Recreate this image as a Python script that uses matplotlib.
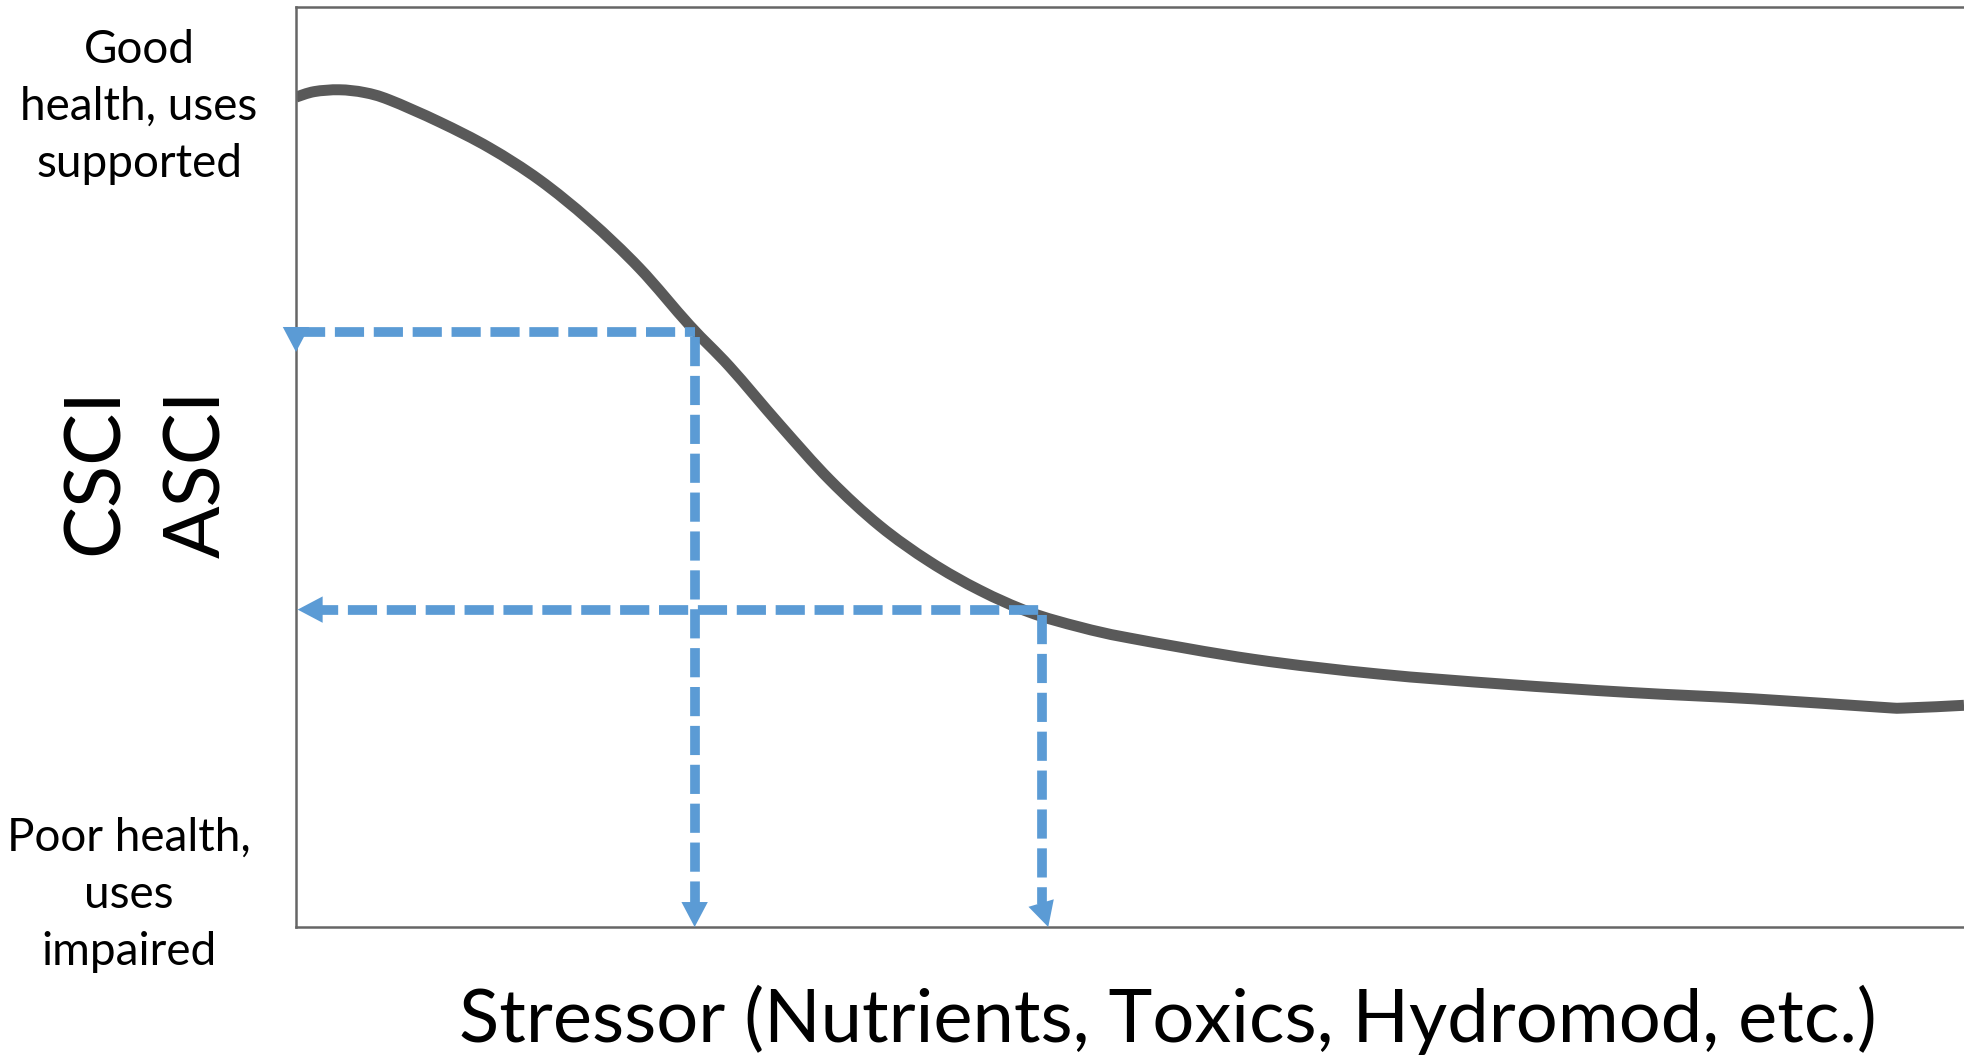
import matplotlib.pyplot as plt
from matplotlib.path import Path
from matplotlib.patches import PathPatch

# curve (stressor 0-100, index 0-100)
stressor = [0, 1.1, 2.6, 4.1, 5.6, 8.6, 11.6, 14.6, 17.6, 20.6, 23.6, 26.0, 29.0,
            32.0, 35.0, 38.0, 41.0, 44.0, 47.0, 50.0, 57.4, 64.9, 72.4,
            79.9, 87.4, 94.9, 96.4, 100]
index = [90.2, 90.8, 91.0, 90.7, 89.9, 87.5, 84.7, 81.2, 76.8, 71.6, 65.4, 60.9, 54.6,
         48.6, 43.6, 39.7, 36.6, 34.2, 32.6, 31.4, 29.1, 27.5, 26.4,
         25.5, 24.8, 23.9, 23.8, 24.1]

# the two worked examples: (stressor, index)
examples_x = [23.9, 44.7]
examples_y = [64.7, 34.5]

top_label = "Good\nhealth, uses\nsupported"
bottom_label = "Poor health,\nuses\nimpaired"
xlabel = "Stressor (Nutrients, Toxics, Hydromod, etc.)"

curve_color = '#595959'
guide_color = '#5B9BD5'

fig = plt.figure(figsize=(19.64, 10.55), dpi=100)
ax = fig.add_axes([0.1507, 0.1213, 0.8493, 0.8721])
ax.set_xlim(0, 100)
ax.set_ylim(0, 100)
ax.set_xticks([])
ax.set_yticks([])
for side in ['left', 'bottom', 'top']:
    ax.spines[side].set_color('#666666')
    ax.spines[side].set_linewidth(1.8)
ax.spines['right'].set_visible(False)

# smooth line through the read points (Catmull-Rom as cubic Bezier segments)
pts = list(zip(stressor, index))
verts = [pts[0]]
codes = [Path.MOVETO]
for i in range(len(pts) - 1):
    p0 = pts[i - 1] if i > 0 else pts[i]
    p1, p2 = pts[i], pts[i + 1]
    p3 = pts[i + 2] if i + 2 < len(pts) else pts[i + 1]
    c1 = (p1[0] + (p2[0] - p0[0]) / 6, p1[1] + (p2[1] - p0[1]) / 6)
    c2 = (p2[0] - (p3[0] - p1[0]) / 6, p2[1] - (p3[1] - p1[1]) / 6)
    verts += [c1, c2, p2]
    codes += [Path.CURVE4] * 3
ax.add_patch(PathPatch(Path(verts, codes), fill=False, edgecolor=curve_color,
                       lw=7.9, capstyle='butt', zorder=2))

dash = (0, (3.0, 1.0))
head = '-|>,head_length=1.8,head_width=0.95'
glw = 7.0

def arrow_head(tip, tail):
    ax.annotate('', xy=tip, xytext=tail, annotation_clip=False,
                arrowprops=dict(arrowstyle=head, color=guide_color, lw=0,
                                shrinkA=0, shrinkB=0, mutation_scale=10), zorder=4)

# first example: horizontal guide ends with a downward head on the axis
x1, y1 = examples_x[0], examples_y[0]
ax.plot([0, x1], [y1, y1], color=guide_color, lw=glw, linestyle=dash, zorder=3)
ax.plot([x1, x1], [y1 - 0.6, 2.5], color=guide_color, lw=glw, linestyle=dash, zorder=3)
arrow_head((0, y1 - 2.2), (0, y1 + 1.5))
arrow_head((x1, 0), (x1, 5))

# second example
x2, y2 = examples_x[1], examples_y[1]
ax.plot([0.8, x2], [y2, y2], color=guide_color, lw=glw, linestyle=dash, zorder=3)
ax.plot([x2, x2], [y2 - 0.6, 2.5], color=guide_color, lw=glw, linestyle=dash, zorder=3)
arrow_head((0.1, y2), (4, y2))
arrow_head((x2 + 0.4, 0), (x2 - 0.6, 6.1))

fig.text(0.0708, 0.8985, top_label, ha='center', va='center', fontsize=33,
         family='Lato', linespacing=1.45)
fig.text(0.0657, 0.1516, bottom_label, ha='center', va='center', fontsize=33,
         family='Lato', linespacing=1.45)

fig.text(118 / 1964, 1 - 471 / 1055, 'CSCI', rotation=90, rotation_mode='anchor',
         ha='center', va='baseline', fontsize=56, family='Lato')
fig.text(220 / 1964, 1 - 474 / 1055, 'ASCI', rotation=90, rotation_mode='anchor',
         ha='center', va='baseline', fontsize=56, family='Lato')

fig.text(1168 / 1964, 13 / 1055, xlabel, ha='center', va='baseline',
         fontsize=53.4, family='Lato')

plt.savefig('out.png', dpi=100)
